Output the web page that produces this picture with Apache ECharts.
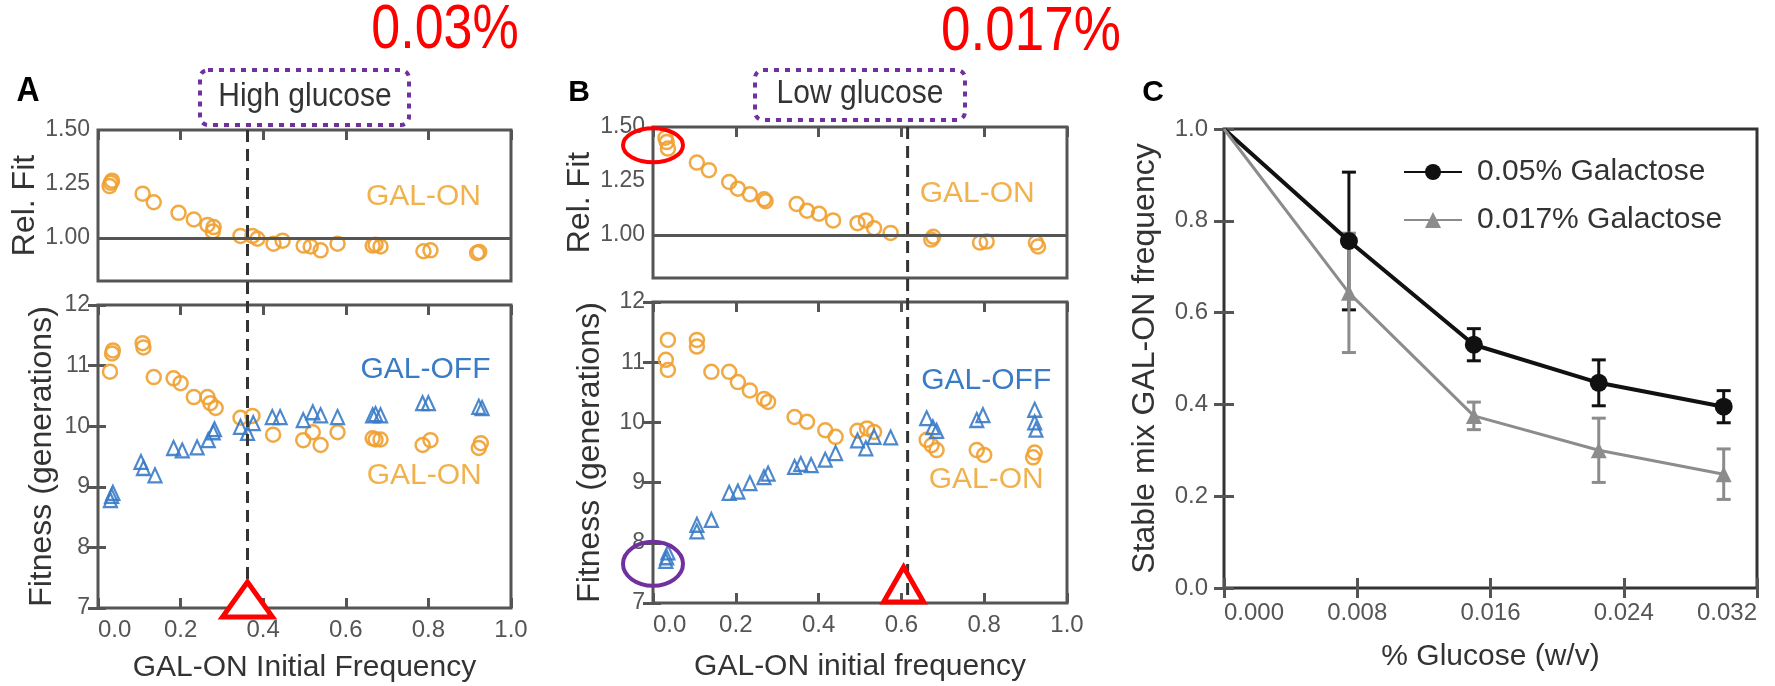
<!DOCTYPE html>
<html>
<head>
<meta charset="utf-8">
<script src="https://cdn.jsdelivr.net/npm/echarts@6/dist/echarts.min.js"></script>
<style>
  html, body { margin: 0; padding: 0; background: #fff; }
  #chart { width: 1775px; height: 686px; }
</style>
</head>
<body>
<div id="chart"></div>
<script>
// ---- panel A : high glucose ----
const aRelX = [0.028, 0.031, 0.034, 0.108, 0.135, 0.195, 0.232, 0.265, 0.278, 0.28, 0.345, 0.374, 0.386, 0.425, 0.447, 0.498, 0.515, 0.539, 0.58, 0.665, 0.672, 0.684, 0.788, 0.805, 0.918, 0.923];
const aRelY = [1.24, 1.255, 1.265, 1.205, 1.165, 1.116, 1.085, 1.06, 1.03, 1.05, 1.009, 1.009, 0.996, 0.973, 0.987, 0.964, 0.96, 0.942, 0.973, 0.964, 0.968, 0.96, 0.938, 0.942, 0.93, 0.935];
const aOnX = [0.029, 0.034, 0.036, 0.108, 0.110, 0.135, 0.183, 0.2, 0.232, 0.265, 0.272, 0.285, 0.345, 0.374, 0.424, 0.497, 0.52, 0.539, 0.58, 0.665, 0.672, 0.684, 0.786, 0.805, 0.922, 0.927];
const aOnY = [10.9, 11.2, 11.25, 11.37, 11.3, 10.81, 10.79, 10.71, 10.48, 10.48, 10.38, 10.3, 10.14, 10.17, 9.86, 9.77, 9.9, 9.69, 9.9, 9.8, 9.78, 9.78, 9.69, 9.77, 9.64, 9.72];
const aOffX = [0.03, 0.033, 0.036, 0.104, 0.11, 0.138, 0.183, 0.204, 0.24, 0.267, 0.279, 0.282, 0.345, 0.362, 0.376, 0.422, 0.441, 0.497, 0.52, 0.539, 0.58, 0.665, 0.672, 0.684, 0.786, 0.8, 0.922, 0.93];
const aOffY = [8.78, 8.85, 8.9, 9.41, 9.31, 9.19, 9.64, 9.6, 9.65, 9.77, 9.9, 9.95, 9.99, 9.89, 10.05, 10.15, 10.15, 10.1, 10.23, 10.18, 10.15, 10.18, 10.2, 10.18, 10.38, 10.38, 10.32, 10.3];
const aThreshold = 0.362;

// ---- panel B : low glucose ----
const bRelX = [0.03, 0.033, 0.036, 0.106, 0.135, 0.184, 0.205, 0.234, 0.268, 0.272, 0.347, 0.372, 0.401, 0.435, 0.494, 0.514, 0.534, 0.574, 0.672, 0.677, 0.79, 0.806, 0.925, 0.93];
const bRelY = [1.45, 1.43, 1.40, 1.335, 1.30, 1.245, 1.214, 1.188, 1.165, 1.156, 1.143, 1.112, 1.098, 1.067, 1.054, 1.067, 1.031, 1.009, 0.978, 0.991, 0.964, 0.969, 0.964, 0.946];
const bOnX = [0.031, 0.036, 0.036, 0.106, 0.106, 0.141, 0.184, 0.205, 0.234, 0.268, 0.278, 0.342, 0.372, 0.416, 0.441, 0.494, 0.517, 0.534, 0.661, 0.673, 0.685, 0.782, 0.8, 0.918, 0.922];
const bOnY = [11.04, 11.37, 10.87, 11.37, 11.26, 10.84, 10.84, 10.67, 10.53, 10.39, 10.34, 10.09, 10.01, 9.87, 9.76, 9.86, 9.9, 9.84, 9.71, 9.62, 9.54, 9.54, 9.46, 9.42, 9.5];
const bOffX = [0.031, 0.033, 0.036, 0.106, 0.106, 0.141, 0.184, 0.205, 0.234, 0.268, 0.278, 0.342, 0.357, 0.382, 0.416, 0.441, 0.494, 0.514, 0.534, 0.574, 0.661, 0.676, 0.685, 0.782, 0.797, 0.922, 0.922, 0.925];
const bOffY = [7.70, 7.76, 7.84, 8.30, 8.19, 8.38, 8.83, 8.85, 8.99, 9.09, 9.15, 9.26, 9.31, 9.29, 9.38, 9.49, 9.7, 9.57, 9.76, 9.75, 10.07, 9.92, 9.86, 10.04, 10.12, 10.21, 10.0, 9.88];
const bThreshold = 0.615;

// ---- panel C ----
const cGlucose = [0, 0.0075, 0.015, 0.0225, 0.03];
const cGal05 = [1.0, 0.756, 0.53, 0.447, 0.395];
const cGal05Err = [0, 0.15, 0.035, 0.05, 0.035];
const cGal017 = [1.0, 0.643, 0.375, 0.30, 0.248];
const cGal017Err = [0, 0.13, 0.03, 0.07, 0.055];
const cNames = ['0.05% Galactose', '0.017% Galactose'];

const relTicks = [1.0, 1.25, 1.5];

const ORANGE = '#EFA030';
const ORANGE_TXT = '#F1B24E';
const BLUE = '#3A7BC6';
const FRAME = '#555';
const FONT = 'Liberation Sans, Arial, sans-serif';

const chart = echarts.init(document.getElementById('chart'));

function pairs(xs, ys) { return xs.map((x, i) => [x, ys[i]]); }

const tickIn = { show: true, inside: true, length: 10, lineStyle: { color: FRAME, width: 3 } };
const noLine = { show: false };
const noLabel = { show: false };

function xAx(grid, extra) {
  return Object.assign({
    type: 'value', gridIndex: grid, min: 0, max: 1, interval: 0.2,
    splitLine: noLine, axisLine: noLine, axisTick: { show: false }, axisLabel: noLabel
  }, extra);
}
function yAx(grid, extra) {
  return Object.assign({
    type: 'value', gridIndex: grid, min: 7, max: 12, interval: 1,
    splitLine: noLine, axisLine: noLine, axisTick: { show: false }, axisLabel: noLabel
  }, extra);
}
const xLabel = {
  show: true, fontSize: 24, color: '#555', margin: 10,
  formatter: v => v.toFixed(1), alignMinLabel: 'left'
};
const yLabel = { show: true, fontSize: 23, color: '#555', margin: 8 };
const xName = { fontSize: 30, color: '#333' };
const yName = { fontSize: 32, color: '#333' };

function circles(xi, yi, xs, ys) {
  return {
    type: 'scatter', xAxisIndex: xi, yAxisIndex: yi, data: pairs(xs, ys),
    symbol: 'circle', symbolSize: 14,
    itemStyle: { color: 'rgba(0,0,0,0)', borderColor: ORANGE, borderWidth: 2.5, opacity: 0.9 }
  };
}
function triangles(xi, yi, xs, ys) {
  return {
    type: 'scatter', xAxisIndex: xi, yAxisIndex: yi, data: pairs(xs, ys),
    symbol: 'triangle', symbolSize: [13, 14],
    itemStyle: { color: 'rgba(0,0,0,0)', borderColor: BLUE, borderWidth: 2.2, opacity: 0.9 }
  };
}
const oneLine = {
  silent: true, symbol: ['none', 'none'], label: { show: false },
  lineStyle: { color: FRAME, width: 3, type: 'solid' }, data: [{ yAxis: 1 }]
};
function errorBars(ys, errs, color) {
  return {
    type: 'custom', xAxisIndex: 8, yAxisIndex: 6, z: 3,
    data: cGlucose.map((x, i) => [x, ys[i] - errs[i], ys[i] + errs[i]]),
    renderItem: (params, api) => {
      if (api.value(2) - api.value(1) <= 0) return null;
      const lo = api.coord([api.value(0), api.value(1)]);
      const hi = api.coord([api.value(0), api.value(2)]);
      const w = 7;
      const st = { stroke: color, lineWidth: 3 };
      return {
        type: 'group', children: [
          { type: 'line', shape: { x1: lo[0], y1: lo[1], x2: hi[0], y2: hi[1] }, style: st },
          { type: 'line', shape: { x1: lo[0] - w, y1: lo[1], x2: lo[0] + w, y2: lo[1] }, style: st },
          { type: 'line', shape: { x1: hi[0] - w, y1: hi[1], x2: hi[0] + w, y2: hi[1] }, style: st }
        ]
      };
    }
  };
}

const gridBase = { show: true, borderColor: FRAME, borderWidth: 3, backgroundColor: 'rgba(0,0,0,0)' };

const option = {
  animation: false,
  backgroundColor: '#fff',
  textStyle: { fontFamily: FONT },
  grid: [
    Object.assign({ left: 98, top: 130, width: 413, height: 151 }, gridBase),
    Object.assign({ left: 98, top: 305, width: 413, height: 303 }, gridBase),
    Object.assign({ left: 653, top: 127, width: 414, height: 151 }, gridBase),
    Object.assign({ left: 653, top: 302, width: 414, height: 301 }, gridBase),
    Object.assign({ left: 1224, top: 129, width: 533, height: 459 }, gridBase, { borderColor: '#333' })
  ],
  xAxis: [
    xAx(0),
    xAx(0, { position: 'top', axisTick: tickIn }),
    xAx(1, { axisTick: tickIn, axisLabel: xLabel, name: 'GAL-ON Initial Frequency', nameLocation: 'middle', nameGap: 45, nameTextStyle: xName }),
    xAx(1, { position: 'top', axisTick: tickIn }),
    xAx(2),
    xAx(2, { position: 'top', axisTick: tickIn }),
    xAx(3, { axisTick: tickIn, axisLabel: xLabel, name: 'GAL-ON initial frequency', nameLocation: 'middle', nameGap: 49, nameTextStyle: xName }),
    xAx(3, { position: 'top', axisTick: tickIn }),
    xAx(4, {
      max: 0.032, interval: 0.008, axisTick: tickIn,
      axisLabel: { show: true, fontSize: 24, color: '#555', margin: 13, formatter: v => v.toFixed(3), alignMinLabel: 'left', alignMaxLabel: 'right' },
      name: '% Glucose (w/v)', nameLocation: 'middle', nameGap: 54, nameTextStyle: xName
    }),
    xAx(4, { max: 0.032, interval: 0.008, position: 'top', axisTick: tickIn })
  ],
  yAxis: [
    yAx(0, {
      min: 0.8, max: 1.5, interval: null,
      axisLabel: Object.assign({}, yLabel, { customValues: relTicks, formatter: v => v.toFixed(2) }),
      name: 'Rel. Fit', nameLocation: 'middle', nameGap: 57, nameTextStyle: yName
    }),
    yAx(1, { axisTick: Object.assign({}, tickIn, { length: 8 }), axisLabel: yLabel, name: 'Fitness (generations)', nameLocation: 'middle', nameGap: 40, nameTextStyle: yName }),
    yAx(1, { position: 'right', axisTick: tickIn }),
    yAx(2, {
      min: 0.8, max: 1.5, interval: null,
      axisLabel: Object.assign({}, yLabel, { customValues: relTicks, formatter: v => v.toFixed(2) }),
      name: 'Rel. Fit', nameLocation: 'middle', nameGap: 55, nameTextStyle: yName
    }),
    yAx(3, { axisTick: Object.assign({}, tickIn, { length: 8 }), axisLabel: yLabel, name: 'Fitness (generations)', nameLocation: 'middle', nameGap: 47, nameTextStyle: yName }),
    yAx(3, { position: 'right', axisTick: tickIn }),
    yAx(4, {
      min: 0, max: 1, interval: 0.2, axisTick: tickIn,
      axisLabel: { show: true, fontSize: 24, color: '#555', margin: 16, formatter: v => v.toFixed(1) },
      name: 'Stable mix GAL-ON frequency', nameLocation: 'middle', nameGap: 63, nameTextStyle: yName
    }),
    yAx(4, { min: 0, max: 1, interval: 0.2, position: 'right', axisTick: tickIn })
  ],
  legend: {
    data: cNames, orient: 'vertical', left: 1398, top: 152, itemGap: 18,
    itemWidth: 58, itemHeight: 20,
    textStyle: { fontSize: 30, color: '#333', padding: [0, 0, 0, 10] }
  },
  series: [
    Object.assign(circles(0, 0, aRelX, aRelY), { markLine: oneLine }),
    circles(2, 1, aOnX, aOnY),
    triangles(2, 1, aOffX, aOffY),
    Object.assign(circles(4, 3, bRelX, bRelY), { markLine: oneLine }),
    circles(6, 4, bOnX, bOnY),
    triangles(6, 4, bOffX, bOffY),
    {
      name: cNames[0], type: 'line', xAxisIndex: 8, yAxisIndex: 6, z: 4,
      data: pairs(cGlucose, cGal05), symbol: 'circle',
      symbolSize: (v, p) => (p.dataIndex === 0 ? 0 : 18),
      lineStyle: { color: '#111', width: 4 }, itemStyle: { color: '#111' }
    },
    {
      name: cNames[1], type: 'line', xAxisIndex: 8, yAxisIndex: 6, z: 4,
      data: pairs(cGlucose, cGal017), symbol: 'triangle',
      symbolSize: (v, p) => (p.dataIndex === 0 ? 0 : 16),
      lineStyle: { color: '#8c8c8c', width: 3 }, itemStyle: { color: '#8c8c8c' }
    },
    errorBars(cGal05, cGal05Err, '#111'),
    errorBars(cGal017, cGal017Err, '#8c8c8c')
  ]
};
chart.setOption(option);

// ---- annotations, anchored to data space ----
function px(xi, yi, pt) { return chart.convertToPixel({ xAxisIndex: xi, yAxisIndex: yi }, pt); }
function txt(text, x, y, size, color, extra, styleExtra) {
  return Object.assign({
    type: 'text', x, y, z: 50,
    style: Object.assign({ text, fill: color, fontSize: size, fontFamily: FONT, align: 'center', verticalAlign: 'middle' }, styleExtra || {})
  }, extra || {});
}
function label(text, xi, yi, pt, color) {
  const p = px(xi, yi, pt);
  return txt(text, p[0], p[1], 30, color);
}

const aTop = px(1, 0, [aThreshold, 1.5]);
const aBot = px(2, 1, [aThreshold, 7]);
const bTop = px(5, 3, [bThreshold, 1.5]);
const bBot = px(6, 4, [bThreshold, 7]);
const dash = { stroke: '#333', lineWidth: 3, lineDash: [12, 7] };
const redOval = px(4, 3, [0, 1.415]);
const purpleOval = px(6, 4, [0, 7.65]);
const boxStyle = { fill: 'rgba(0,0,0,0)', stroke: '#7030A0', lineWidth: 4, lineDash: [5, 6] };

chart.setOption({
  graphic: [
    { type: 'line', z: 40, shape: { x1: aTop[0], y1: aTop[1], x2: aBot[0], y2: aBot[1] }, style: dash },
    { type: 'line', z: 40, shape: { x1: bTop[0], y1: bTop[1], x2: bBot[0], y2: bBot[1] }, style: dash },
    {
      type: 'polygon', z: 60,
      shape: { points: [[aBot[0], aBot[1] - 26], [aBot[0] - 25, aBot[1] + 9], [aBot[0] + 25, aBot[1] + 9]] },
      style: { fill: '#fff', stroke: '#FF0000', lineWidth: 5 }
    },
    {
      type: 'polygon', z: 60,
      shape: { points: [[bBot[0] - 4, bBot[1] - 36], [bBot[0] - 24, bBot[1] - 1], [bBot[0] + 16, bBot[1] - 1]] },
      style: { fill: 'rgba(0,0,0,0)', stroke: '#FF0000', lineWidth: 5 }
    },
    { type: 'ellipse', z: 60, shape: { cx: redOval[0], cy: redOval[1], rx: 30, ry: 17 }, style: { fill: 'rgba(0,0,0,0)', stroke: '#FF0000', lineWidth: 4 } },
    { type: 'ellipse', z: 60, shape: { cx: purpleOval[0], cy: purpleOval[1], rx: 30, ry: 22 }, style: { fill: 'rgba(0,0,0,0)', stroke: '#7030A0', lineWidth: 4 } },

    label('GAL-ON', 0, 0, [0.788, 1.19], ORANGE_TXT),
    label('GAL-OFF', 2, 1, [0.793, 10.93], BLUE),
    label('GAL-ON', 2, 1, [0.79, 9.19], ORANGE_TXT),
    label('GAL-ON', 4, 3, [0.783, 1.19], ORANGE_TXT),
    label('GAL-OFF', 6, 4, [0.805, 10.7], BLUE),
    label('GAL-ON', 6, 4, [0.805, 9.04], ORANGE_TXT),

    // condition boxes
    { type: 'rect', z: 50, shape: { x: 200, y: 70, width: 209, height: 55, r: 8 }, style: boxStyle },
    txt('High glucose', 305, 97, 30, '#333', { scaleY: 1.1 }),
    { type: 'rect', z: 50, shape: { x: 755, y: 70, width: 210, height: 50, r: 8 }, style: boxStyle },
    txt('Low glucose', 860, 94, 30, '#333', { scaleY: 1.1 }),

    // red concentration notes
    txt('0.03%', 445, 31, 52, '#FF0000', { scaleY: 1.2 }),
    txt('0.017%', 1031, 32, 53, '#FF0000', { scaleY: 1.2 }),

    // panel letters
    txt('A', 28, 91, 32, '#000', { scaleY: 1.1 }, { fontWeight: 'bold' }),
    txt('B', 579, 93, 30, '#000', null, { fontWeight: 'bold' }),
    txt('C', 1153, 93, 30, '#000', null, { fontWeight: 'bold' })
  ]
});
</script>
</body>
</html>
